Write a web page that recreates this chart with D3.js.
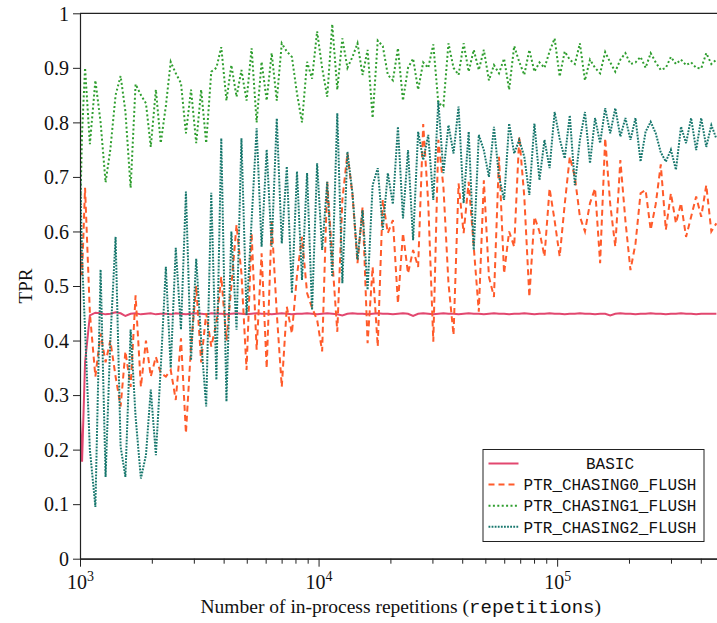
<!DOCTYPE html>
<html>
<head>
<meta charset="utf-8">
<script src="https://cdn.jsdelivr.net/npm/d3@7"></script>
<style>
  html, body { margin: 0; padding: 0; background: #fff; }
  svg { display: block; }
</style>
</head>
<body>
<svg id="chart" width="717" height="623"></svg>
<script>
// Number of in-process repetitions at which every variant was measured
const repetitions = [
  1000, 1020, 1050, 1100, 1160, 1220, 1280, 1340, 1410, 1480,
  1550, 1630, 1710, 1800, 1890, 1980, 2080, 2180, 2290, 2400,
  2520, 2650, 2780, 2920, 3070, 3220, 3380, 3550, 3730, 3910,
  4110, 4310, 4530, 4750, 4990, 5240, 5500, 5770, 6060, 6360,
  6680, 7010, 7360, 7730, 8120, 8520, 8950, 9390, 9860, 10350,
  10870, 11410, 11980, 12580, 13210, 13870, 14560, 15290, 16050, 16850,
  17700, 18580, 19510, 20490, 21510, 22580, 23710, 24900, 26140, 27450,
  28820, 30260, 31770, 33360, 35030, 36780, 38620, 40550, 42580, 44710,
  46940, 49290, 51760, 54340, 57060, 59910, 62910, 66050, 69360, 72820,
  76460, 80290, 84300, 88510, 92940, 97590, 102470, 107590, 112970, 118620,
  124550, 130780, 137320, 144180, 151390, 158960, 166910, 175250, 184020, 193220,
  202880, 213020, 223670, 234860, 246600, 258930, 271880, 285470, 299750, 314730,
  330470, 347000, 364350, 382560, 401690, 421780, 442870, 465000
];

// True positive rate per variant
const basic = [
  0.26, 0.178, 0.36, 0.446, 0.451, 0.450, 0.448, 0.449, 0.452, 0.450,
  0.445, 0.449, 0.450, 0.448, 0.449, 0.450, 0.448, 0.449, 0.449, 0.448,
  0.450, 0.449, 0.448, 0.449, 0.450, 0.449, 0.448, 0.450, 0.449, 0.449,
  0.448, 0.449, 0.450, 0.449, 0.448, 0.449, 0.450, 0.449, 0.449, 0.448,
  0.449, 0.450, 0.449, 0.448, 0.449, 0.449, 0.450, 0.449, 0.448, 0.449,
  0.450, 0.449, 0.448, 0.446, 0.449, 0.450, 0.449, 0.449, 0.448, 0.449,
  0.450, 0.449, 0.449, 0.448, 0.449, 0.450, 0.449, 0.445, 0.449, 0.450,
  0.449, 0.448, 0.449, 0.450, 0.449, 0.449, 0.448, 0.449, 0.450, 0.449,
  0.449, 0.448, 0.449, 0.450, 0.449, 0.449, 0.448, 0.449, 0.449, 0.450,
  0.449, 0.448, 0.449, 0.449, 0.450, 0.449, 0.449, 0.448, 0.449, 0.449,
  0.450, 0.449, 0.449, 0.448, 0.449, 0.449, 0.446, 0.449, 0.450, 0.449,
  0.449, 0.448, 0.449, 0.449, 0.450, 0.449, 0.449, 0.448, 0.449, 0.449,
  0.450, 0.449, 0.449, 0.448, 0.449, 0.449, 0.449, 0.449
];

const ptrChasing0Flush = [
  0.60, 0.52, 0.68, 0.45, 0.334, 0.413, 0.36, 0.40, 0.334, 0.279,
  0.38, 0.315, 0.483, 0.315, 0.40, 0.334, 0.37, 0.34, 0.334, 0.346,
  0.291, 0.404, 0.23, 0.39, 0.50, 0.36, 0.45, 0.389, 0.432, 0.517,
  0.40, 0.50, 0.612, 0.523, 0.346, 0.597, 0.383, 0.56, 0.349, 0.618,
  0.45, 0.315, 0.462, 0.413, 0.52, 0.59, 0.487, 0.46, 0.438, 0.38,
  0.691, 0.55, 0.416, 0.658, 0.743, 0.667, 0.542, 0.645, 0.395, 0.535,
  0.389, 0.658, 0.597, 0.621, 0.468, 0.597, 0.523, 0.566, 0.535, 0.797,
  0.652, 0.398, 0.768, 0.682, 0.505, 0.41, 0.688, 0.597, 0.691, 0.572,
  0.453, 0.694, 0.517, 0.48, 0.737, 0.523, 0.60, 0.572, 0.774, 0.664,
  0.48, 0.627, 0.60, 0.554, 0.679, 0.62, 0.554, 0.65, 0.737, 0.70,
  0.627, 0.60, 0.652, 0.679, 0.542, 0.771, 0.65, 0.572, 0.731, 0.62,
  0.529, 0.578, 0.67, 0.676, 0.603, 0.65, 0.723, 0.603, 0.67, 0.615,
  0.652, 0.59, 0.627, 0.664, 0.627, 0.685, 0.60, 0.615
];

const ptrChasing1Flush = [
  0.62, 0.78, 0.90, 0.76, 0.877, 0.80, 0.69, 0.75, 0.85, 0.885,
  0.82, 0.68, 0.87, 0.85, 0.835, 0.755, 0.86, 0.762, 0.83, 0.911,
  0.89, 0.872, 0.78, 0.86, 0.762, 0.86, 0.762, 0.893, 0.90, 0.938,
  0.84, 0.905, 0.847, 0.896, 0.84, 0.936, 0.80, 0.911, 0.84, 0.927,
  0.84, 0.945, 0.93, 0.92, 0.853, 0.80, 0.911, 0.88, 0.967, 0.90,
  0.847, 0.98, 0.86, 0.954, 0.90, 0.92, 0.945, 0.887, 0.933, 0.808,
  0.95, 0.94, 0.887, 0.877, 0.936, 0.84, 0.90, 0.917, 0.86, 0.91,
  0.90, 0.943, 0.835, 0.83, 0.945, 0.90, 0.887, 0.945, 0.893, 0.933,
  0.896, 0.933, 0.877, 0.905, 0.89, 0.917, 0.86, 0.94, 0.911, 0.887,
  0.933, 0.893, 0.91, 0.90, 0.93, 0.954, 0.884, 0.93, 0.915, 0.907,
  0.945, 0.877, 0.915, 0.90, 0.89, 0.929, 0.91, 0.893, 0.915, 0.927,
  0.907, 0.91, 0.92, 0.90, 0.927, 0.91, 0.896, 0.90, 0.92, 0.907,
  0.915, 0.905, 0.91, 0.90, 0.899, 0.927, 0.907, 0.915
];

const ptrChasing2Flush = [
  0.72, 0.55, 0.42, 0.20, 0.095, 0.53, 0.15, 0.40, 0.59, 0.205,
  0.15, 0.42, 0.26, 0.147, 0.19, 0.31, 0.19, 0.35, 0.535, 0.35,
  0.57, 0.42, 0.673, 0.364, 0.55, 0.40, 0.279, 0.671, 0.328, 0.771,
  0.288, 0.60, 0.42, 0.771, 0.447, 0.62, 0.789, 0.572, 0.75, 0.572,
  0.807, 0.578, 0.719, 0.487, 0.71, 0.511, 0.707, 0.456, 0.725, 0.566,
  0.691, 0.517, 0.817, 0.505, 0.746, 0.67, 0.548, 0.639, 0.493, 0.685,
  0.716, 0.603, 0.707, 0.65, 0.792, 0.624, 0.749, 0.584, 0.783, 0.731,
  0.777, 0.658, 0.839, 0.707, 0.795, 0.743, 0.829, 0.652, 0.783, 0.566,
  0.777, 0.749, 0.70, 0.792, 0.70, 0.658, 0.798, 0.743, 0.768, 0.737,
  0.667, 0.798, 0.694, 0.768, 0.716, 0.819, 0.77, 0.734, 0.813, 0.685,
  0.768, 0.819, 0.725, 0.808, 0.762, 0.826, 0.78, 0.826, 0.774, 0.808,
  0.768, 0.808, 0.728, 0.783, 0.801, 0.78, 0.745, 0.728, 0.75, 0.713,
  0.792, 0.762, 0.808, 0.749, 0.808, 0.755, 0.795, 0.77
];

const seriesNames = ["BASIC", "PTR_CHASING0_FLUSH", "PTR_CHASING1_FLUSH", "PTR_CHASING2_FLUSH"];
const yTicks = [0, 0.1, 0.2, 0.3, 0.4, 0.5, 0.6, 0.7, 0.8, 0.9, 1];
const yTickLabels = ["0", "0.1", "0.2", "0.3", "0.4", "0.5", "0.6", "0.7", "0.8", "0.9", "1"];
const xMajorTicks = [1e3, 1e4, 1e5];
const xMajorExponents = ["3", "4", "5"];
const xLabelText = "Number of in-process repetitions (";
const xLabelCode = "repetitions";
const yLabelText = "TPR";

const series = [basic, ptrChasing0Flush, ptrChasing1Flush, ptrChasing2Flush];
const lineStyles = [
  { color: "#e2476f", dash: null,        width: 2.0 },
  { color: "#ff5b2b", dash: "6,4",       width: 2.0 },
  { color: "#2f9e2f", dash: "2,2.4",     width: 2.0 },
  { color: "#17776d", dash: "1.8,1.3",   width: 2.0 }
];

const serif = "'Liberation Serif', 'Times New Roman', serif";
const mono = "'Liberation Mono', 'DejaVu Sans Mono', monospace";

const plot = { left: 80, right: 717.5, top: 13.3, bottom: 558.7 };

const svg = d3.select("#chart");

const x = d3.scaleLog().domain([1000, 470000]).range([plot.left, plot.right]);
const y = d3.scaleLinear().domain([0, 1]).range([plot.bottom, plot.top]);

svg.append("defs").append("clipPath").attr("id", "plot-clip")
  .append("rect")
  .attr("x", plot.left).attr("y", plot.top - 2)
  .attr("width", plot.right - plot.left).attr("height", plot.bottom - plot.top + 2);

// Series lines
const line = d3.line()
  .x((d, i) => x(repetitions[i]))
  .y(d => y(d));

const linesG = svg.append("g").attr("clip-path", "url(#plot-clip)");
series.forEach((values, si) => {
  const st = lineStyles[si];
  linesG.append("path")
    .datum(values)
    .attr("d", line)
    .attr("fill", "none")
    .attr("stroke", st.color)
    .attr("stroke-width", st.width)
    .attr("stroke-dasharray", st.dash)
    .attr("stroke-linejoin", "miter")
    .attr("stroke-linecap", "butt");
});

// Frame top line
svg.append("line")
  .attr("x1", plot.left).attr("x2", plot.right)
  .attr("y1", plot.top).attr("y2", plot.top)
  .attr("stroke", "#222").attr("stroke-width", 1.2);

// Y axis
const yAxis = svg.append("g")
  .attr("transform", `translate(${plot.left},0)`)
  .call(d3.axisLeft(y).tickValues(yTicks).tickSize(7).tickSizeOuter(0)
    .tickFormat((d, i) => yTickLabels[i]));
yAxis.selectAll("text")
  .attr("font-family", serif).attr("font-size", 20).attr("fill", "#111")
  .attr("x", -11).attr("dy", "0.34em");

// X axis: minor ticks then major ticks with power labels
const minorTicks = x.ticks().filter(v => !xMajorTicks.includes(v));
svg.append("g")
  .attr("transform", `translate(0,${plot.bottom})`)
  .call(d3.axisBottom(x).tickValues(minorTicks).tickSize(5).tickSizeOuter(0).tickFormat(""));
const xAxis = svg.append("g")
  .attr("transform", `translate(0,${plot.bottom})`)
  .call(d3.axisBottom(x).tickValues(xMajorTicks).tickSize(8).tickSizeOuter(0).tickFormat(""));
xAxis.selectAll(".tick").each(function (d, i) {
  const t = d3.select(this).select("text")
    .attr("y", 30).attr("dy", null)
    .attr("font-family", serif).attr("font-size", 20).attr("fill", "#111")
    .attr("text-anchor", "middle");
  t.append("tspan").text("10");
  t.append("tspan").attr("dy", -8).attr("font-size", 14).text(xMajorExponents[i]);
});

svg.selectAll(".domain").attr("stroke", "#222").attr("stroke-width", 1.2);
svg.selectAll(".tick line").attr("stroke", "#222").attr("stroke-width", 1);

// Axis titles
const xTitle = svg.append("text")
  .attr("x", (plot.left + plot.right) / 2 + 2).attr("y", 613)
  .attr("text-anchor", "middle")
  .attr("font-family", serif).attr("font-size", 19.5).attr("fill", "#111");
xTitle.append("tspan").text(xLabelText);
xTitle.append("tspan").attr("font-family", mono).attr("font-size", 19).text(xLabelCode);
xTitle.append("tspan").text(")");

svg.append("text")
  .attr("transform", `translate(32,${(plot.top + plot.bottom) / 2}) rotate(-90)`)
  .attr("text-anchor", "middle")
  .attr("font-family", serif).attr("font-size", 19).attr("fill", "#111")
  .text(yLabelText);

// Legend
const legend = { x: 483, y: 449.5, w: 221, h: 92 };
const lg = svg.append("g");
lg.append("rect")
  .attr("x", legend.x).attr("y", legend.y)
  .attr("width", legend.w).attr("height", legend.h)
  .attr("fill", "#fff").attr("stroke", "#222").attr("stroke-width", 1);
seriesNames.forEach((name, i) => {
  const cy = legend.y + 14 + i * 21.1;
  const st = lineStyles[i];
  lg.append("line")
    .attr("x1", legend.x + 5.5).attr("x2", legend.x + 35.5)
    .attr("y1", cy).attr("y2", cy)
    .attr("stroke", st.color).attr("stroke-width", st.width)
    .attr("stroke-dasharray", st.dash);
  lg.append("text")
    .attr("x", legend.x + 127).attr("y", cy)
    .attr("dy", "0.36em")
    .attr("text-anchor", "middle")
    .attr("font-family", mono).attr("font-size", 16).attr("fill", "#111")
    .text(name);
});
</script>
</body>
</html>
